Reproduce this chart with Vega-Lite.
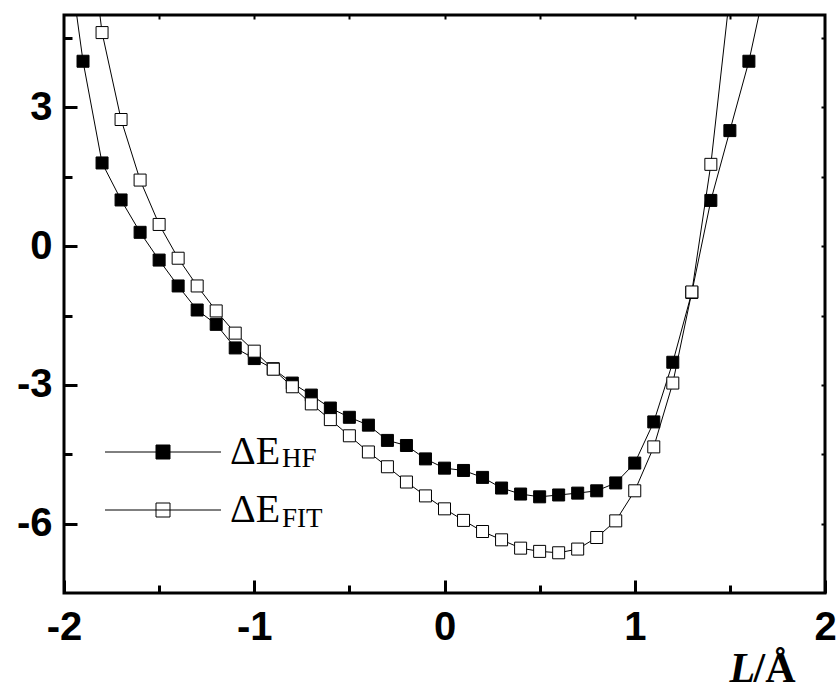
{
  "$schema": "https://vega.github.io/schema/vega-lite/v6.json",
  "width": 761,
  "height": 578,
  "autosize": {"type": "none"},
  "padding": {"left": 64, "top": 15, "right": 11, "bottom": 95},
  "background": "white",
  "config": {
    "view": {"stroke": "black", "strokeWidth": 3},
    "axis": {
      "grid": false, "domain": false,
      "labelColor": "black", "labelFont": "Liberation Sans", "labelFontWeight": "bold",
      "labelFontSize": 40, "labelFlush": false, "labelOverlap": false, "labelBound": false,
      "titleColor": "black"
    }
  },
  "data": {"values": [
    {"x": -2.0, "y": 7.0, "series": "HF", "sub": "HF"},
    {"x": -1.9, "y": 4.0, "series": "HF", "sub": "HF"},
    {"x": -1.8, "y": 1.8, "series": "HF", "sub": "HF"},
    {"x": -1.7, "y": 1.0, "series": "HF", "sub": "HF"},
    {"x": -1.6, "y": 0.3, "series": "HF", "sub": "HF"},
    {"x": -1.5, "y": -0.3, "series": "HF", "sub": "HF"},
    {"x": -1.4, "y": -0.86, "series": "HF", "sub": "HF"},
    {"x": -1.3, "y": -1.38, "series": "HF", "sub": "HF"},
    {"x": -1.2, "y": -1.69, "series": "HF", "sub": "HF"},
    {"x": -1.1, "y": -2.2, "series": "HF", "sub": "HF"},
    {"x": -1.0, "y": -2.43, "series": "HF", "sub": "HF"},
    {"x": -0.9, "y": -2.65, "series": "HF", "sub": "HF"},
    {"x": -0.8, "y": -2.96, "series": "HF", "sub": "HF"},
    {"x": -0.7, "y": -3.22, "series": "HF", "sub": "HF"},
    {"x": -0.6, "y": -3.5, "series": "HF", "sub": "HF"},
    {"x": -0.5, "y": -3.7, "series": "HF", "sub": "HF"},
    {"x": -0.4, "y": -3.87, "series": "HF", "sub": "HF"},
    {"x": -0.3, "y": -4.2, "series": "HF", "sub": "HF"},
    {"x": -0.2, "y": -4.31, "series": "HF", "sub": "HF"},
    {"x": -0.1, "y": -4.6, "series": "HF", "sub": "HF"},
    {"x": 0.0, "y": -4.8, "series": "HF", "sub": "HF"},
    {"x": 0.1, "y": -4.85, "series": "HF", "sub": "HF"},
    {"x": 0.2, "y": -5.0, "series": "HF", "sub": "HF"},
    {"x": 0.3, "y": -5.23, "series": "HF", "sub": "HF"},
    {"x": 0.4, "y": -5.36, "series": "HF", "sub": "HF"},
    {"x": 0.5, "y": -5.42, "series": "HF", "sub": "HF"},
    {"x": 0.6, "y": -5.38, "series": "HF", "sub": "HF"},
    {"x": 0.7, "y": -5.34, "series": "HF", "sub": "HF"},
    {"x": 0.8, "y": -5.29, "series": "HF", "sub": "HF"},
    {"x": 0.9, "y": -5.12, "series": "HF", "sub": "HF"},
    {"x": 1.0, "y": -4.69, "series": "HF", "sub": "HF"},
    {"x": 1.1, "y": -3.8, "series": "HF", "sub": "HF"},
    {"x": 1.2, "y": -2.51, "series": "HF", "sub": "HF"},
    {"x": 1.3, "y": -1.0, "series": "HF", "sub": "HF"},
    {"x": 1.4, "y": 0.99, "series": "HF", "sub": "HF"},
    {"x": 1.5, "y": 2.5, "series": "HF", "sub": "HF"},
    {"x": 1.6, "y": 4.0, "series": "HF", "sub": "HF"},
    {"x": 1.7, "y": 5.9, "series": "HF", "sub": "HF"},
    {"x": -1.9, "y": 8.0, "series": "FIT", "sub": "FIT"},
    {"x": -1.8, "y": 4.62, "series": "FIT", "sub": "FIT"},
    {"x": -1.7, "y": 2.74, "series": "FIT", "sub": "FIT"},
    {"x": -1.6, "y": 1.43, "series": "FIT", "sub": "FIT"},
    {"x": -1.5, "y": 0.47, "series": "FIT", "sub": "FIT"},
    {"x": -1.4, "y": -0.26, "series": "FIT", "sub": "FIT"},
    {"x": -1.3, "y": -0.86, "series": "FIT", "sub": "FIT"},
    {"x": -1.2, "y": -1.4, "series": "FIT", "sub": "FIT"},
    {"x": -1.1, "y": -1.88, "series": "FIT", "sub": "FIT"},
    {"x": -1.0, "y": -2.27, "series": "FIT", "sub": "FIT"},
    {"x": -0.9, "y": -2.66, "series": "FIT", "sub": "FIT"},
    {"x": -0.8, "y": -3.04, "series": "FIT", "sub": "FIT"},
    {"x": -0.7, "y": -3.41, "series": "FIT", "sub": "FIT"},
    {"x": -0.6, "y": -3.75, "series": "FIT", "sub": "FIT"},
    {"x": -0.5, "y": -4.1, "series": "FIT", "sub": "FIT"},
    {"x": -0.4, "y": -4.45, "series": "FIT", "sub": "FIT"},
    {"x": -0.3, "y": -4.77, "series": "FIT", "sub": "FIT"},
    {"x": -0.2, "y": -5.1, "series": "FIT", "sub": "FIT"},
    {"x": -0.1, "y": -5.4, "series": "FIT", "sub": "FIT"},
    {"x": 0.0, "y": -5.68, "series": "FIT", "sub": "FIT"},
    {"x": 0.1, "y": -5.93, "series": "FIT", "sub": "FIT"},
    {"x": 0.2, "y": -6.17, "series": "FIT", "sub": "FIT"},
    {"x": 0.3, "y": -6.35, "series": "FIT", "sub": "FIT"},
    {"x": 0.4, "y": -6.53, "series": "FIT", "sub": "FIT"},
    {"x": 0.5, "y": -6.6, "series": "FIT", "sub": "FIT"},
    {"x": 0.6, "y": -6.63, "series": "FIT", "sub": "FIT"},
    {"x": 0.7, "y": -6.55, "series": "FIT", "sub": "FIT"},
    {"x": 0.8, "y": -6.3, "series": "FIT", "sub": "FIT"},
    {"x": 0.9, "y": -5.94, "series": "FIT", "sub": "FIT"},
    {"x": 1.0, "y": -5.29, "series": "FIT", "sub": "FIT"},
    {"x": 1.1, "y": -4.34, "series": "FIT", "sub": "FIT"},
    {"x": 1.2, "y": -2.96, "series": "FIT", "sub": "FIT"},
    {"x": 1.3, "y": -0.99, "series": "FIT", "sub": "FIT"},
    {"x": 1.4, "y": 1.77, "series": "FIT", "sub": "FIT"},
    {"x": 1.5, "y": 5.46, "series": "FIT", "sub": "FIT"}
  ]},
  "layer": [
    {
      "mark": {"type": "line", "color": "black", "strokeWidth": 1, "clip": true},
      "encoding": {
        "x": {"field": "x", "type": "quantitative", "scale": {"domain": [-2, 2], "nice": false, "zero": false},
          "axis": {"orient": "bottom", "values": [-2, -1, 0, 1, 2], "labelExpr": "'' + datum.value",
            "ticks": true, "tickColor": "black", "tickWidth": 3, "tickOpacity": 1,
            "offset": -13, "tickSize": 13, "labelPadding": 14,
            "title": "L", "titleFont": "Liberation Serif", "titleFontStyle": "italic", "titleFontWeight": "bold",
            "titleFontSize": 42, "titleX": 665, "titleY": 101, "titleAlign": "left", "titleBaseline": "alphabetic"}},
        "y": {"field": "y", "type": "quantitative", "scale": {"domain": [-7.5, 5], "nice": false, "zero": false},
          "axis": {"orient": "left", "values": [-6, -3, 0, 3], "labelExpr": "'' + datum.value",
            "ticks": true, "tickColor": "black", "tickWidth": 3, "tickOpacity": 1,
            "offset": -13, "tickSize": 13, "labelPadding": 12, "title": null}},
        "detail": {"field": "series"}
      }
    },
    {
      "mark": {"type": "line", "color": "black", "strokeWidth": 1, "opacity": 0, "clip": true},
      "encoding": {
        "x": {"field": "x", "type": "quantitative", "scale": {"domain": [-2, 2], "nice": false, "zero": false},
          "axis": {"orient": "bottom", "values": [-1.5, -0.5, 0.5, 1.5], "labels": false,
            "ticks": true, "tickColor": "black", "tickWidth": 3, "tickOpacity": 1,
            "offset": -8, "tickSize": 8,
            "title": "/Å", "titleFont": "Liberation Serif", "titleFontStyle": "normal", "titleFontWeight": "bold",
            "titleFontSize": 42, "titleX": 689, "titleY": 96, "titleAlign": "left", "titleBaseline": "alphabetic"}},
        "y": {"field": "y", "type": "quantitative", "scale": {"domain": [-7.5, 5], "nice": false, "zero": false},
          "axis": {"orient": "left", "values": [-4.5, -1.5, 1.5, 4.5], "labels": false,
            "ticks": true, "tickColor": "black", "tickWidth": 3, "tickOpacity": 1,
            "offset": -8, "tickSize": 8, "title": null}},
        "detail": {"field": "series"}
      }
    },
    {
      "mark": {"type": "line", "color": "black", "strokeWidth": 1, "opacity": 0, "clip": true},
      "encoding": {
        "x": {"field": "x", "type": "quantitative", "scale": {"domain": [-2, 2], "nice": false, "zero": false},
          "axis": {"orient": "top", "values": [-1.5, -1, -0.5, 0, 0.5, 1, 1.5], "labels": false,
            "ticks": true, "tickColor": "black", "tickWidth": 2, "tickOpacity": 1,
            "offset": -4, "tickSize": 4, "title": null}},
        "y": {"field": "y", "type": "quantitative", "scale": {"domain": [-7.5, 5], "nice": false, "zero": false},
          "axis": {"orient": "right", "values": [-6, -4.5, -3, -1.5, 0, 1.5, 3, 4.5], "labels": false,
            "ticks": true, "tickColor": "black", "tickWidth": 2, "tickOpacity": 1,
            "offset": -4, "tickSize": 4, "title": null}},
        "detail": {"field": "series"}
      }
    },
    {
      "mark": {"type": "point", "shape": "square", "size": 144, "filled": true, "stroke": "black", "strokeWidth": 1, "clip": true},
      "encoding": {
        "x": {"field": "x", "type": "quantitative", "scale": {"domain": [-2, 2], "nice": false, "zero": false}, "axis": null},
        "y": {"field": "y", "type": "quantitative", "scale": {"domain": [-7.5, 5], "nice": false, "zero": false}, "axis": null},
        "fill": {"field": "series", "type": "nominal",
          "scale": {"domain": ["HF", "FIT"], "range": ["black", "white"]},
          "legend": {"orient": "none", "legendX": 79, "legendY": 417, "title": null, "padding": 0,
            "labelExpr": "'ΔE'", "labelFont": "Liberation Serif", "labelFontSize": 40, "labelFontWeight": "normal",
            "labelColor": "black", "symbolType": "M-8.2857,0H8.2857M-1,-1H1V1H-1Z", "symbolSize": 196,
            "symbolStrokeColor": "black", "symbolStrokeWidth": 1, "symbolOpacity": 1, "labelOffset": 47, "rowPadding": 18}},
        "opacity": {"field": "sub", "type": "nominal", "sort": "descending",
          "scale": {"range": [1, 1]},
          "legend": {"orient": "none", "legendX": 191, "legendY": 430, "title": null, "padding": 0,
            "labelFont": "Liberation Serif", "labelFontSize": 27, "labelColor": "black",
            "symbolSize": 0, "symbolStrokeWidth": 0, "labelOffset": 0, "rowPadding": 32}}
      }
    }
  ],
  "resolve": {"axis": {"x": "independent", "y": "independent"}}
}
